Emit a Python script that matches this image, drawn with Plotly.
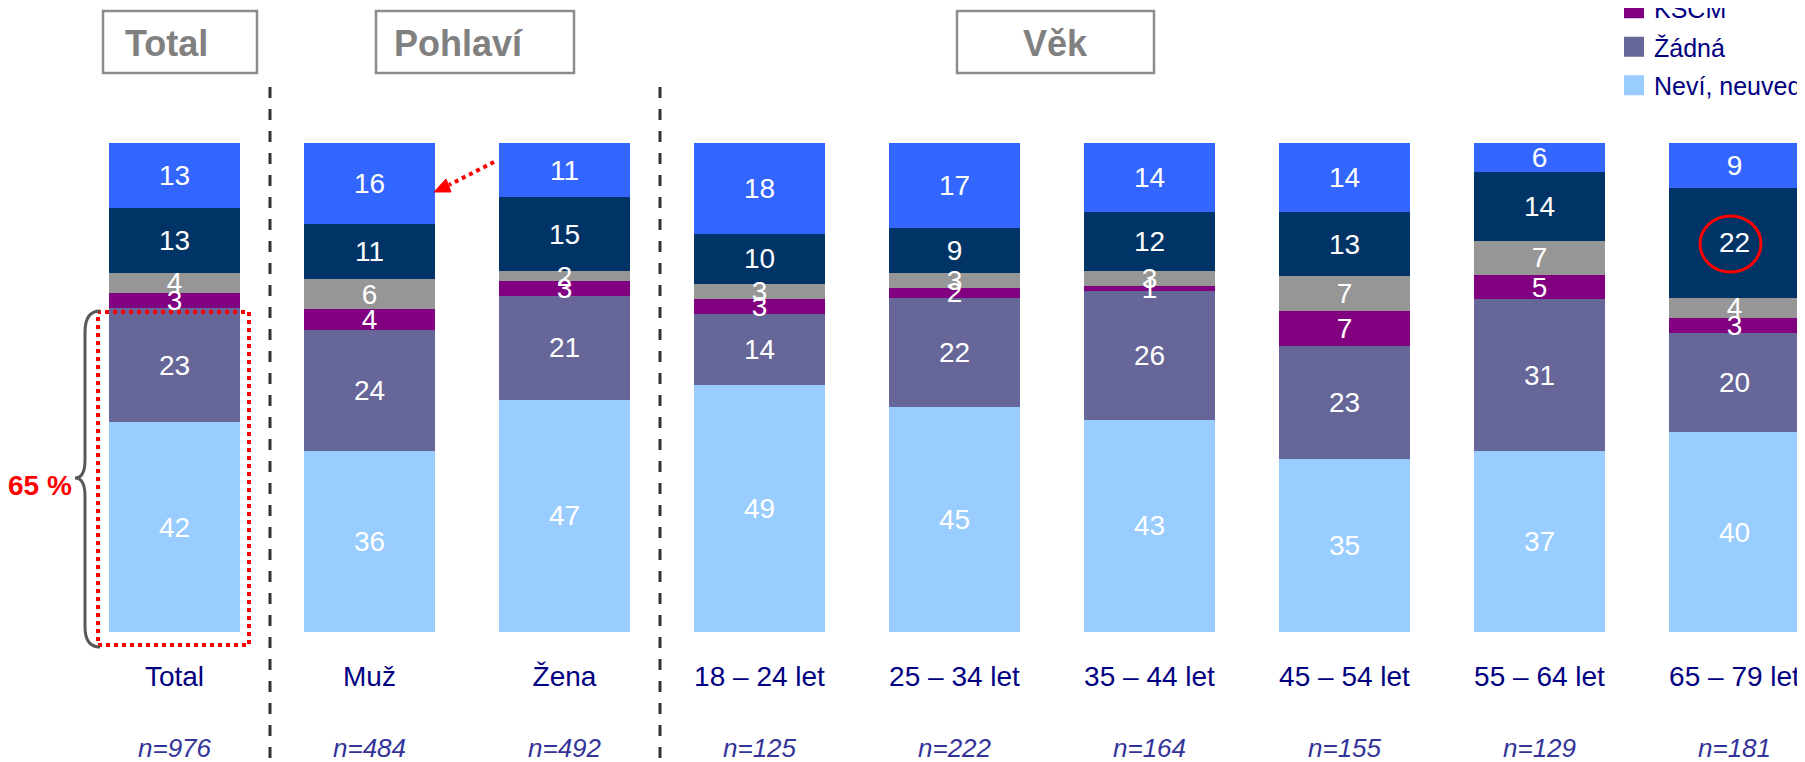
import plotly.graph_objects as go

FONT = "Liberation Sans, Arial, sans-serif"

categories = ["Total", "Muž", "Žena", "18 – 24 let", "25 – 34 let", "35 – 44 let",
              "45 – 54 let", "55 – 64 let", "65 – 79 let"]
n_labels = ["n=976", "n=484", "n=492", "n=125", "n=222", "n=164", "n=155", "n=129", "n=181"]

# stacked from bottom to top
nevi = [42, 36, 47, 49, 45, 43, 35, 37, 40]
zadna = [23, 24, 21, 14, 22, 26, 23, 31, 20]
kscm = [3, 4, 3, 3, 2, 1, 7, 5, 3]
strana_c = [4, 6, 2, 3, 3, 3, 7, 7, 4]
strana_b = [13, 11, 15, 10, 9, 12, 13, 14, 22]
strana_a = [13, 16, 11, 18, 17, 14, 14, 6, 9]

series_names = ["Neví, neuvedl(a)", "Žádná", "KSČM", "TOP 09", "ČSSD", "ODS"]
series_values = [nevi, zadna, kscm, strana_c, strana_b, strana_a]
series_colors = ["#99CCFF", "#666699", "#800080", "#969696", "#003366", "#3366FF"]

header_labels = ["Total", "Pohlaví", "Věk"]

W, H = 1805, 762
OFF = 8                      # page body margin
T = 143 - OFF
B = H - (632 - OFF)
PH = H - T - B
CAT0 = 174.5 - OFF           # centre of first category in figure px
STEP = 195.0


def X(p):
    return (p - OFF) / W


def Y(p):
    return (H - B - (p - OFF)) / PH


fig = go.Figure()

# coloured stacked bars
for name, vals, col in zip(series_names, series_values, series_colors):
    fig.add_trace(go.Bar(
        x=categories, y=vals, name=name, marker=dict(color=col, line=dict(width=0)),
        showlegend=False, hoverinfo="skip",
    ))

# value labels on an overlaying axis pair so they sit above every bar
for name, vals in zip(series_names, series_values):
    fig.add_trace(go.Bar(
        x=categories, y=vals, name=name, xaxis="x2", yaxis="y2",
        marker=dict(color="rgba(0,0,0,0)", line=dict(width=0)),
        text=[str(v) for v in vals], texttemplate="%{text}", textposition="inside",
        insidetextanchor="middle", textangle=0,
        textfont=dict(color="white", size=28, family=FONT),
        showlegend=False, hoverinfo="skip",
    ))

# legend entries (top of stack first)
for name, col in reversed(list(zip(series_names, series_colors))):
    fig.add_trace(go.Scatter(
        x=[None], y=[None], mode="markers", name=name, legendgroup=name,
        marker=dict(symbol="square", size=16, color=col, line=dict(color=col, width=4)),
        showlegend=True,
    ))

shapes = []
annotations = []

# n= labels
for cat, lab in zip(categories, n_labels):
    annotations.append(dict(x=cat, y=Y(748), xref="x", yref="paper", text="<i>" + lab + "</i>",
                            showarrow=False, xanchor="center", yanchor="middle",
                            font=dict(size=26, color="#333399", family=FONT)))

# header boxes
boxes = [(103, 257, 166.7), (376, 574, 458.5), (957, 1154, 1055.5)]
for lab, (x0, x1, tx) in zip(header_labels, boxes):
    shapes.append(dict(type="rect", xref="paper", yref="paper", x0=X(x0), x1=X(x1),
                       y0=Y(73), y1=Y(11), line=dict(color="#8C8C8C", width=2.5)))
    annotations.append(dict(x=X(tx), y=Y(43), xref="paper", yref="paper", text="<b>" + lab + "</b>",
                            showarrow=False, xanchor="center", yanchor="middle",
                            font=dict(size=36, color="#808080", family=FONT)))

# dashed separators
for xp in (270, 660):
    shapes.append(dict(type="line", xref="paper", yref="paper", x0=X(xp), x1=X(xp),
                       y0=Y(87), y1=Y(H + OFF), line=dict(color="#333333", width=3, dash="11px,11px")))

# red dotted rectangle
shapes.append(dict(type="rect", xref="paper", yref="paper", x0=X(98), x1=X(249),
                   y0=Y(645), y1=Y(312), line=dict(color="#FF0000", width=4, dash="dot")))


def P(px, py):
    return f"{X(px):.5f},{Y(py):.5f}"


# brace
brace = ("M " + P(100, 311) + " Q " + P(85, 311) + " " + P(85, 332) +
         " L " + P(85, 460) + " Q " + P(85, 478) + " " + P(75, 478) +
         " Q " + P(85, 478) + " " + P(85, 496) +
         " L " + P(85, 627) + " Q " + P(85, 647) + " " + P(100, 647))
shapes.append(dict(type="path", xref="paper", yref="paper", path=brace,
                   line=dict(color="#595959", width=3)))
annotations.append(dict(x=X(39.5), y=Y(485), xref="paper", yref="paper", text="<b>65 %</b>",
                        showarrow=False, xanchor="center", yanchor="middle",
                        font=dict(size=28, color="#FF0000", family=FONT)))

# red dotted arrow
shapes.append(dict(type="line", xref="paper", yref="paper", x0=X(494), y0=Y(162),
                   x1=X(449), y1=Y(185), line=dict(color="#FF0000", width=4, dash="dot")))
shapes.append(dict(type="path", xref="paper", yref="paper",
                   path="M " + P(434, 192) + " L " + P(446, 179) + " L " + P(451, 192) + " Z",
                   fillcolor="#FF0000", line=dict(color="#FF0000", width=1)))

# red circle
shapes.append(dict(type="circle", xref="paper", yref="paper", x0=X(1700), x1=X(1761),
                   y0=Y(272), y1=Y(216), line=dict(color="#FF0000", width=3)))

xrange = [-CAT0 / STEP, (W - CAT0) / STEP]

fig.update_layout(
    width=W, height=H,
    barmode="stack", barnorm="percent", bargap=0.328,
    margin=dict(l=0, r=0, t=T, b=B, autoexpand=False),
    paper_bgcolor="white", plot_bgcolor="rgba(0,0,0,0)",
    font=dict(family=FONT),
    uniformtext=dict(mode="show", minsize=28),
    xaxis=dict(range=xrange, showgrid=False, zeroline=False,
               showline=False, ticks="", ticklabelstandoff=25,
               tickfont=dict(size=28, color="#000080", family=FONT)),
    yaxis=dict(range=[0, 100], visible=False, showgrid=False, zeroline=False),
    xaxis2=dict(range=xrange, overlaying="x", visible=False, showgrid=False, zeroline=False),
    yaxis2=dict(range=[0, 100], overlaying="y", visible=False, showgrid=False, zeroline=False),
    showlegend=True,
    legend=dict(xref="container", yref="container", x=1606 / W, y=1 - 100 / H,
                xanchor="left", yanchor="bottom", bgcolor="rgba(0,0,0,0)",
                traceorder="grouped", tracegroupgap=3,
                font=dict(size=25, color="#000080", family=FONT)),
    shapes=shapes, annotations=annotations,
)

fig.write_html("out.html")
